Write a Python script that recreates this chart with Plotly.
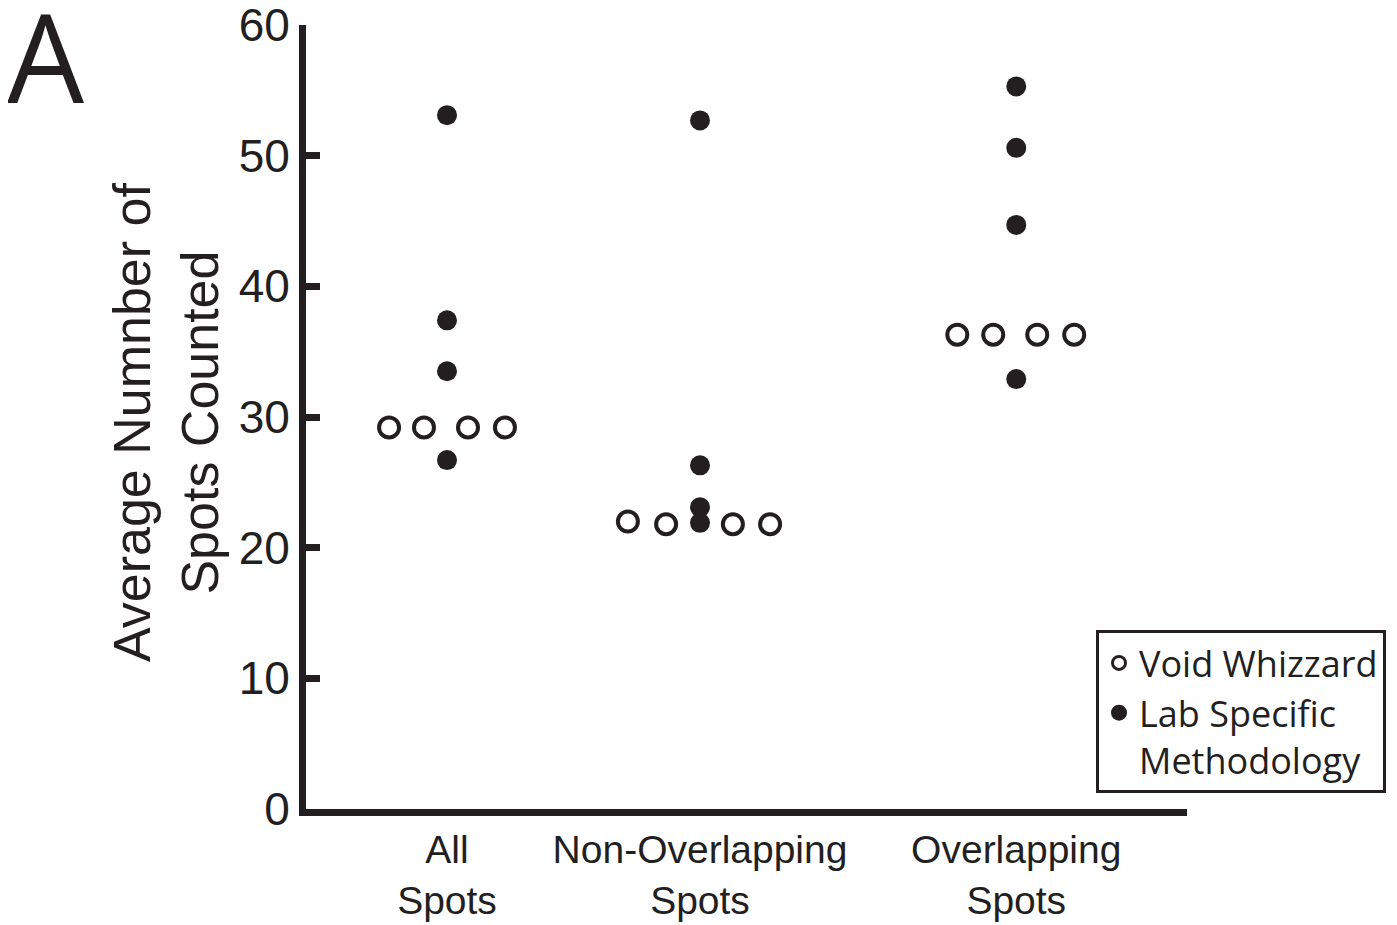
import plotly.graph_objects as go

# ---- data ----
categories = ["All<br>Spots", "Non-Overlapping<br>Spots", "Overlapping<br>Spots"]
cat_pos = [1.0, 2.0, 3.25]

# Void Whizzard (open circles), strip offsets per category
void_all = [29.2, 29.2, 29.2, 29.2]
void_non = [22.0, 21.8, 21.8, 21.8]
void_ovl = [36.3, 36.3, 36.3, 36.3]
void_off_all = [-0.229, -0.091, 0.083, 0.229]
void_off_non = [-0.285, -0.134, 0.130, 0.277]
void_off_ovl = [-0.233, -0.091, 0.083, 0.229]

# Lab Specific Methodology (filled circles)
lab_all = [53.1, 37.4, 33.5, 26.7]
lab_non = [52.7, 26.3, 23.1, 21.9]
lab_ovl = [55.3, 50.6, 44.7, 32.9]

y_ticks = [0, 10, 20, 30, 40, 50, 60]

INK = "#231f20"

void_groups = [(void_all, void_off_all), (void_non, void_off_non), (void_ovl, void_off_ovl)]
lab_groups = [lab_all, lab_non, lab_ovl]

vx, vy = [], []
for c, (vals, offs) in zip(cat_pos, void_groups):
    for v, o in zip(vals, offs):
        vx.append(c + o)
        vy.append(v)

lx, ly = [], []
for c, vals in zip(cat_pos, lab_groups):
    for v in vals:
        lx.append(c)
        ly.append(v)

fig = go.Figure()
fig.add_trace(go.Scatter(
    x=vx, y=vy, mode="markers", name="Void Whizzard", showlegend=False,
    marker=dict(symbol="circle", size=20, color="white",
                line=dict(color=INK, width=4)),
))
fig.add_trace(go.Scatter(
    x=lx, y=ly, mode="markers", name="Lab Specific Methodology", showlegend=False,
    marker=dict(symbol="circle", size=20, color=INK, line=dict(width=0)),
))
# legend entries (smaller symbols, as in the reference key)
fig.add_trace(go.Scatter(
    x=[None], y=[None], mode="markers", name="Void Whizzard",
    marker=dict(symbol="circle", size=13, color="white",
                line=dict(color=INK, width=3)),
))
fig.add_trace(go.Scatter(
    x=[None], y=[None], mode="markers", name="Lab Specific<br>Methodology",
    marker=dict(symbol="circle", size=18, color=INK, line=dict(width=0)),
))

# page has an 8px body margin: figure is placed at (8, 8)
OFF = 8
W, H = 1397 - OFF, 925 - OFF
L, R, T, B = 306 - OFF, 210, 25 - OFF, 116
pw, ph = W - L - R, H - T - B
bottom_px = H - B  # pixel row of y=0 in figure coords

fig.update_layout(
    width=W, height=H,
    margin=dict(l=L, r=R, t=T, b=B, pad=0, autoexpand=False),
    paper_bgcolor="white", plot_bgcolor="white",
    font=dict(family="Liberation Sans, Arial, sans-serif", color=INK),
    showlegend=True,
    legend=dict(
        x=(1386 - OFF - L) / pw, xanchor="right",
        y=(bottom_px - (793 - OFF)) / ph, yanchor="bottom",
        bgcolor="white", bordercolor=INK, borderwidth=3,
        font=dict(family="Open Sans, Noto Sans, sans-serif", size=36, color=INK),
        itemsizing="trace", valign="top", tracegroupgap=0,
    ),
    xaxis=dict(
        range=[1 - (447 - 306) / 253, 1 + (1187 - 447) / 253],
        tickmode="array", tickvals=cat_pos, ticktext=categories,
        showline=True, linecolor=INK, linewidth=7,
        ticks="", showgrid=False, zeroline=False,
        tickfont=dict(size=39, color=INK), fixedrange=True,
        ticklabeloverflow="allow",
    ),
    yaxis=dict(
        range=[0, 60], tickmode="array", tickvals=y_ticks,
        showline=True, linecolor=INK, linewidth=7,
        ticks="inside", ticklen=14, tickwidth=7, tickcolor=INK,
        showgrid=False, zeroline=False,
        tickfont=dict(size=46, color=INK), fixedrange=True,
        ticklabeloverflow="allow",
    ),
    annotations=[
        dict(text="A", xref="paper", yref="paper",
             x=(5 - OFF - L) / pw, xanchor="left",
             y=(bottom_px - (56 - OFF)) / ph, yanchor="middle",
             showarrow=False,
             font=dict(family="Open Sans, Noto Sans, sans-serif", size=122, color=INK)),
        dict(text="Average Numnber of<br>Spots Counted", xref="paper", yref="paper",
             x=(166 - OFF - L) / pw, xanchor="center",
             y=(bottom_px - (423 - OFF)) / ph, yanchor="middle",
             textangle=-90, showarrow=False,
             font=dict(family="Liberation Sans, Arial, sans-serif", size=52, color=INK)),
    ],
)

fig.write_html("out.html")
